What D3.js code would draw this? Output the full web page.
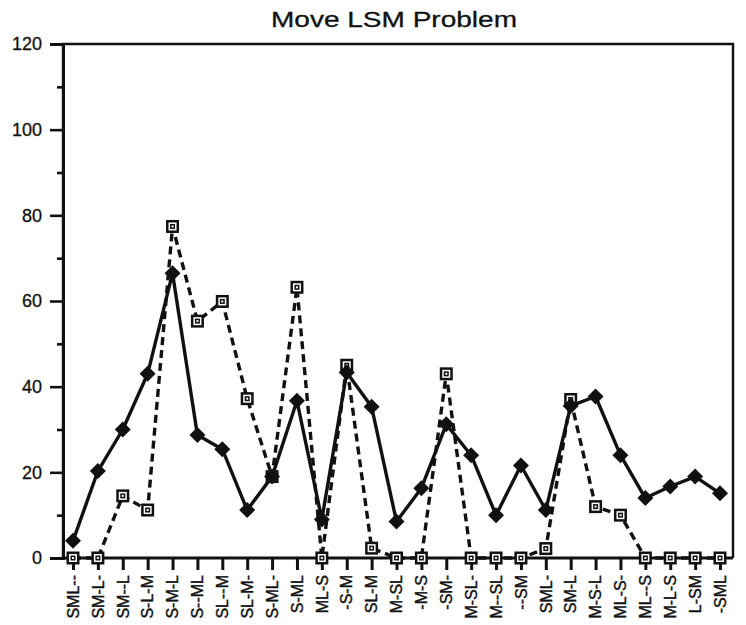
<!DOCTYPE html>
<html>
<head>
<meta charset="utf-8">
<script src="https://cdn.jsdelivr.net/npm/d3@7"></script>
<style>
  html, body { margin: 0; padding: 0; background: #fff; }
  svg { display: block; }
  text { font-family: "Liberation Sans", Arial, Helvetica, sans-serif; fill: #111; }
</style>
</head>
<body>
<svg id="chart" width="746" height="625"></svg>
<script>
const title = "Move LSM Problem";
const categories = ["SML--","SM-L-","SM--L","S-L-M","S-M-L","S--ML","SL--M","SL-M-","S-ML-","S-ML",
  "ML-S","-S-M","SL-M","M-SL","-M-S","-SM-","M-SL-","M--SL","--SM","SML-",
  "SM-L","M-S-L","ML-S-","ML--S","M-L-S","L-SM","-SML"];
const solidValues = [4,20.3,30,43,66.5,28.7,25.4,11.2,19,36.7,
  9,43.3,35.3,8.5,16.3,31.2,24,10,21.6,11.2,
  35.5,37.7,24,14,16.7,19,15.1];
const dashedValues = [0,0,14.5,11.2,77.4,55.3,59.9,37.2,19,63.2,
  0,45,2.3,0,0,43,0,0,0,2.2,
  37,12,10,0,0,0,0];
const yMajorTicks = [0,20,40,60,80,100,120];
const yMinorTicks = [10,30,50,70,90,110];

(function () {
const svg = d3.select("#chart");
const mLeft = 63, mRight = 733, mTop = 44, mBottom = 558;
const x = d3.scalePoint().domain(categories).range([73, 720]);
const y = d3.scaleLinear().domain([0, 120]).range([mBottom, mTop]);
const ink = "#111";

// title
svg.append("text")
  .attr("x", 394).attr("y", 27)
  .attr("text-anchor", "middle")
  .attr("font-size", 22)
  .attr("stroke", ink).attr("stroke-width", 0.3)
  .attr("textLength", 246).attr("lengthAdjust", "spacingAndGlyphs")
  .text(title);

// frame
svg.append("path")
  .attr("d", `M${mLeft},${mBottom}V${mTop}H${mRight}V${mBottom}`)
  .attr("fill", "none").attr("stroke", ink).attr("stroke-width", 2.4);

// y axis
const yAxis = d3.axisLeft(y).tickValues(yMajorTicks).tickSize(13).tickPadding(8).tickFormat(d3.format("d"));
const gy = svg.append("g").attr("transform", `translate(${mLeft},0)`).call(yAxis);
gy.select(".domain").attr("stroke", ink).attr("stroke-width", 3);
gy.selectAll(".tick line").attr("stroke", ink).attr("stroke-width", 2.6);
gy.selectAll(".tick text").attr("font-size", 18).attr("fill", ink)
  .attr("stroke", ink).attr("stroke-width", 0.3)
  .style("font-family", "'Liberation Sans', Arial, sans-serif");
const gyMinor = d3.axisLeft(y).tickValues(yMinorTicks).tickSize(6).tickFormat("");
const gm = svg.append("g").attr("transform", `translate(${mLeft},0)`).call(gyMinor);
gm.select(".domain").remove();
gm.selectAll(".tick line").attr("stroke", ink).attr("stroke-width", 2.6);

// x axis
const xAxis = d3.axisBottom(x).tickSize(12).tickFormat("");
const gx = svg.append("g").attr("transform", `translate(0,${mBottom})`).call(xAxis);
gx.select(".domain").attr("d", `M${mLeft},0H${mRight}`).attr("stroke", ink).attr("stroke-width", 3.2);
gx.selectAll(".tick line").attr("stroke", ink).attr("stroke-width", 3);

// x labels (rotated)
svg.append("g").selectAll("text").data(categories).join("text")
  .attr("transform", d => `translate(${x(d)},575) rotate(-90)`)
  .attr("text-anchor", "end")
  .attr("dy", "0.36em")
  .attr("font-size", 16)
  .attr("stroke", ink).attr("stroke-width", 0.4)
  .text(d => d);

const dashedData = categories.map((c, i) => ({ c, v: dashedValues[i] }));
const solidData = categories.map((c, i) => ({ c, v: solidValues[i] }));
const line = d3.line().x(d => x(d.c)).y(d => y(d.v));

svg.append("path").datum(dashedData)
  .attr("d", line)
  .attr("fill", "none").attr("stroke", ink).attr("stroke-width", 3.4)
  .attr("stroke-dasharray", "8,5");

svg.append("path").datum(solidData)
  .attr("d", line)
  .attr("fill", "none").attr("stroke", ink).attr("stroke-width", 3.4)
  .attr("stroke-linejoin", "round");

// square markers
const sq = svg.append("g").selectAll("g").data(dashedData).join("g")
  .attr("transform", d => `translate(${x(d.c)},${y(d.v)})`);
sq.append("rect").attr("x", -6.5).attr("y", -6.5).attr("width", 13).attr("height", 13).attr("fill", ink);
sq.append("rect").attr("x", -4).attr("y", -4).attr("width", 8).attr("height", 8).attr("fill", "#fff");
sq.append("rect").attr("x", -2.5).attr("y", -2.5).attr("width", 5).attr("height", 5).attr("fill", ink);
sq.append("rect").attr("x", -1).attr("y", -1).attr("width", 2).attr("height", 2).attr("fill", "#fff");

// diamond markers
svg.append("g").selectAll("path").data(solidData).join("path")
  .attr("transform", d => `translate(${x(d.c)},${y(d.v)})`)
  .attr("d", "M0,-8L8,0L0,8L-8,0Z")
  .attr("fill", ink);
})();
</script>
</body>
</html>
